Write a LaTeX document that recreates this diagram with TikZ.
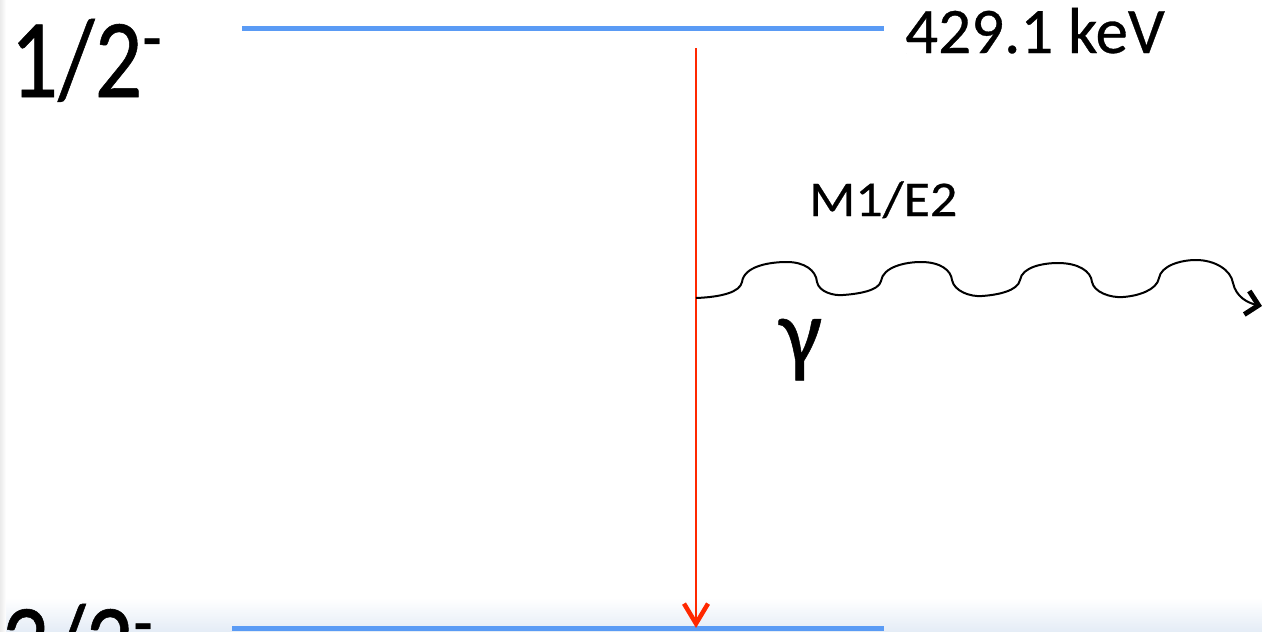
\documentclass[tikz,border=0pt]{standalone}
\usepackage{fontspec}
\setmainfont{Carlito}[FakeBold=0.5]
\usetikzlibrary{arrows.meta}
\definecolor{levelblue}{RGB}{90,155,245}
\definecolor{arrowred}{RGB}{255,40,0}
\definecolor{shadeblue}{RGB}{228,236,246}
\tikzset{
  level/.style={draw=levelblue, line width=5pt},
  transition/.style={draw=arrowred, line width=2pt, -{Straight Barb[length=20pt,width=24pt,line width=4.5pt]}},
  photon/.style={draw=black, line width=2pt, -{Straight Barb[length=12pt,width=24pt,line width=5pt]}},
  lbl/.style={inner sep=0pt, anchor=base west, text=black},
}
\newcommand{\spinlabel}[1]{\scalebox{0.945}[1.125]{\fontsize{100}{100}\selectfont #1\raisebox{31pt}{\fontsize{66}{66}\selectfont -}}}
\begin{document}
\begin{tikzpicture}[x=1pt, y=-1pt]
\useasboundingbox (0,0) rectangle (1262,632);
\clip (0,0) rectangle (1262,632);
\fill[white] (0,0) rectangle (1262,632);
\shade[top color=white, bottom color=shadeblue] (0,598) rectangle (1262,632);
\fill[left color=black!8, right color=white] (0,0) rectangle (6,632);
% levels
\coordinate (t1) at (242,28.5);
\coordinate (t2) at (884,28.5);
\coordinate (b1) at (232,628.5);
\coordinate (b2) at (884,628.5);
\draw[level] (t1) -- (t2);
\draw[level] (b1) -- (b2);
% labels
\node[lbl] (jtop) at (10,97) {\spinlabel{1/2}};
\node[lbl] (jbot) at (1,682) {\spinlabel{3/2}};
\node[lbl, font=\fontsize{65}{65}\selectfont] (energy) at (905,53) {429.1 keV};
\node[lbl] (mult) at (809,216) {\scalebox{1.08}[1]{\fontsize{50}{50}\selectfont M1/E2}};
\node[lbl, font=\fontsize{96}{96}\selectfont] (gam) at (779,365) {γ};
% transition
\coordinate (a1) at (696,48);
\coordinate (a2) at (696,628);
\draw[transition] (a1) -- (a2);
% photon
\coordinate (p0) at (696,298);
\coordinate (p1) at (1262,306);
\draw[photon] (p0) .. controls (722,297) and (740,292) .. (742,282)
  .. controls (744,267) and (767,262) .. (787,262)
  .. controls (804,262) and (816,270) .. (817,282)
  .. controls (819,292) and (834,296) .. (843,295)
  .. controls (857,294) and (879,291) .. (881,281)
  .. controls (883,267) and (905,262) .. (921,262)
  .. controls (940,262) and (951,270) .. (952,280)
  .. controls (954,291) and (970,297) .. (982,296)
  .. controls (997,295) and (1018,291) .. (1020,280)
  .. controls (1022,267) and (1043,263) .. (1058,263)
  .. controls (1078,263) and (1091,271) .. (1092,282)
  .. controls (1094,292) and (1110,298) .. (1123,297)
  .. controls (1138,296) and (1157,290) .. (1159,278)
  .. controls (1161,266) and (1180,260) .. (1196,260)
  .. controls (1215,260) and (1231,270) .. (1233,283)
  .. controls (1236,297) and (1248,303) .. (p1);
\end{tikzpicture}
\end{document}
